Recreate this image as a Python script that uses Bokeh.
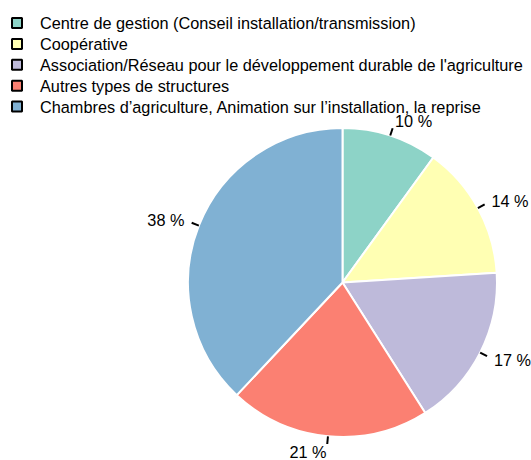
import numpy as np
from bokeh.plotting import figure
from bokeh.models import Range1d
from bokeh.core.properties import value
from bokeh.embed import file_html
from bokeh.resources import INLINE

categories = [
    "Centre de gestion (Conseil installation/transmission)",
    "Coopérative",
    "Association/Réseau pour le développement durable de l'agriculture",
    "Autres types de structures",
    "Chambres d\u2019agriculture, Animation sur l\u2019installation, la reprise",
]
percent = [10, 14, 17, 21, 38]
labels = ["10 %", "14 %", "17 %", "21 %", "38 %"]
colors = ["#8DD3C7", "#FFFFB3", "#BEBADA", "#FB8072", "#80B1D3"]

W, H = 531, 460
p = figure(width=W, height=H, output_backend="svg", toolbar_location=None,
           x_range=Range1d(0, W), y_range=Range1d(0, H), min_border=0)
p.axis.visible = False
p.grid.visible = False
p.outline_line_color = None

# screen coords -> data: x same, y = H - screen_y
cx, cy = 342.0, H - 282.0
R = 154.5

frac = np.array(percent, dtype=float) / sum(percent)
cum = np.concatenate([[0], np.cumsum(frac)])
start = np.pi / 2 - 2 * np.pi * cum[1:]
end = np.pi / 2 - 2 * np.pi * cum[:-1]
p.wedge(x=cx, y=cy, radius=R, start_angle=list(start), end_angle=list(end),
        fill_color=colors, line_color="white", line_width=2)

mid = (start + end) / 2
ux, uy = np.cos(mid), np.sin(mid)
p.segment(x0=list(cx + R * ux), y0=list(cy + R * uy),
          x1=list(cx + 1.05 * R * ux), y1=list(cy + 1.05 * R * uy),
          line_color="black", line_width=2)
for i in range(len(labels)):
    p.text(x=[cx + 1.1 * R * ux[i]], y=[cy + 1.1 * R * uy[i]], text=[labels[i]],
           text_align="left" if ux[i] >= 0 else "right", text_baseline="middle",
           text_font=value("Liberation Sans"), text_font_size="16.3px", text_color="black")

# legend
ly = [H - (22.5 + 20.9 * i) for i in range(len(categories))]
p.scatter(x=[16.5] * len(categories), y=ly, marker="square", size=10,
          fill_color=colors, line_color="black", line_width=2)
p.text(x=[39.5] * len(categories), y=ly, text=categories, text_align="left",
       text_baseline="middle", text_font=value("Liberation Sans"),
       text_font_size="16.3px", text_color="black")

open("out.html", "w").write(file_html(p, INLINE))
